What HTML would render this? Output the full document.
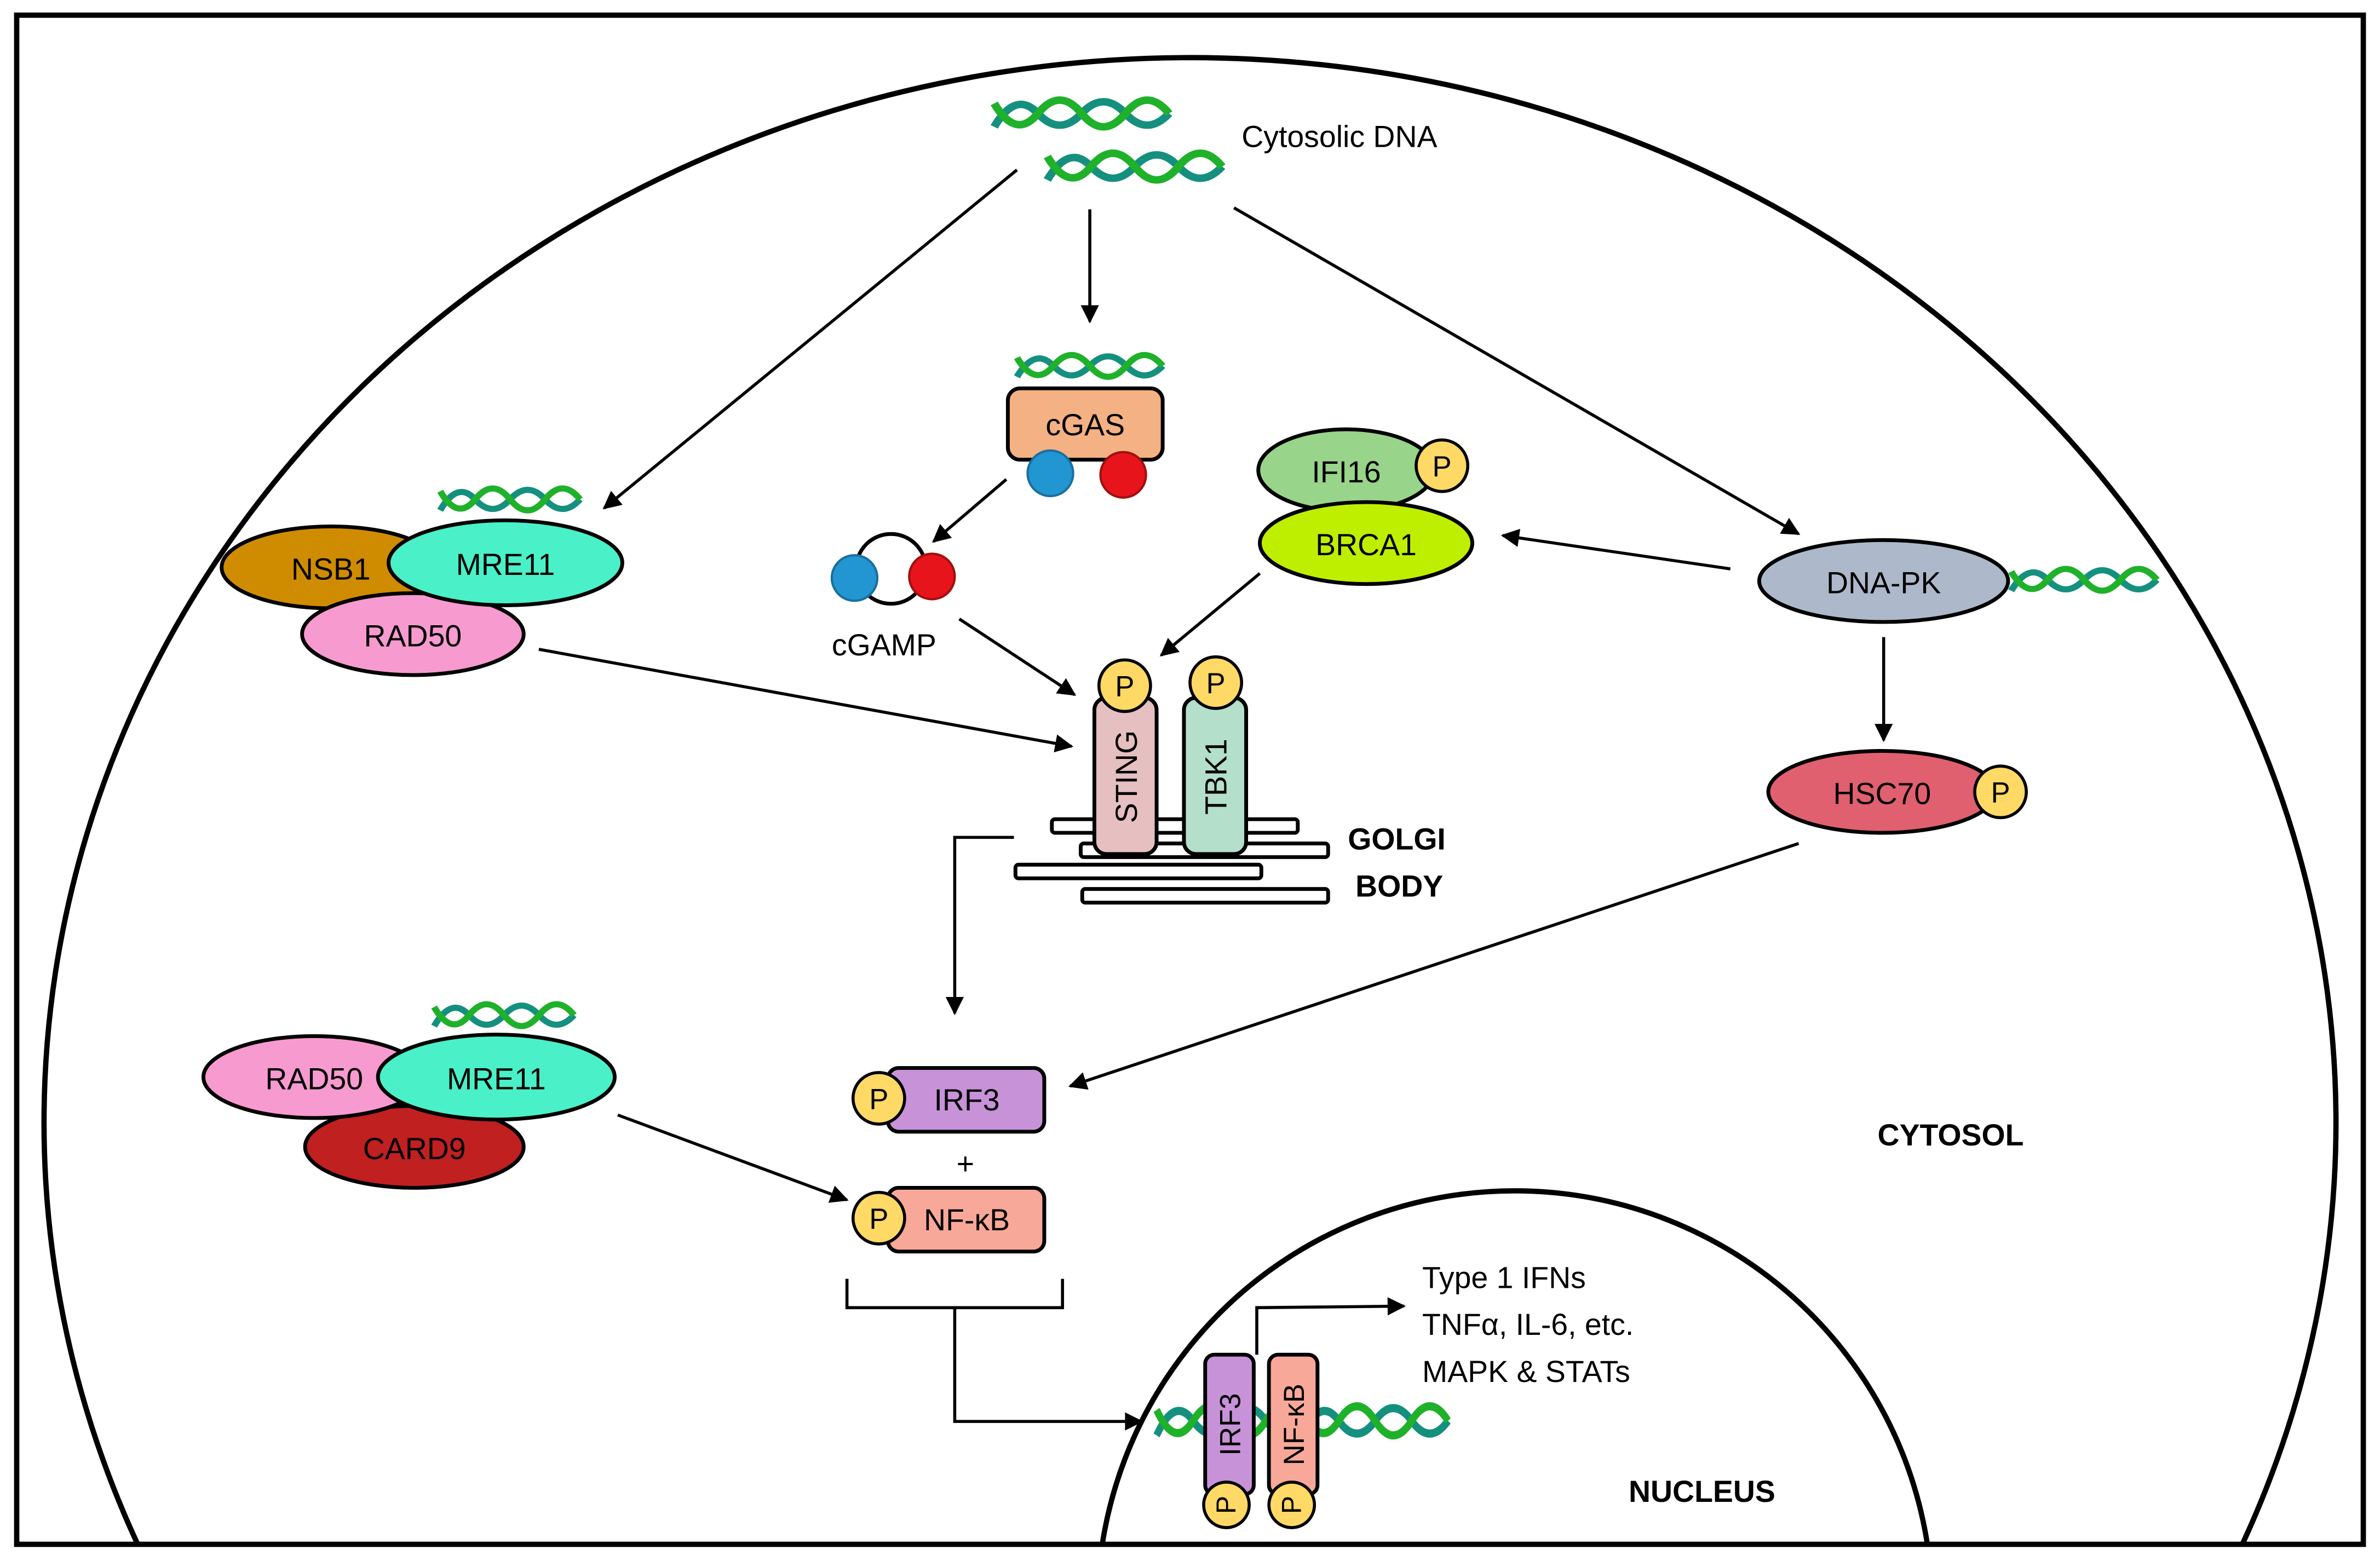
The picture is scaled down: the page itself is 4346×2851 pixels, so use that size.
<!DOCTYPE html>
<html><head><meta charset="utf-8"><style>
html,body{margin:0;padding:0;background:#fff;overflow:hidden;width:4346px;height:2851px;}
svg{display:block;}
text{font-family:"Liberation Sans",sans-serif;fill:#000;}
</style></head><body>
<svg width="4346" height="2851" viewBox="0 0 1568 1029" preserveAspectRatio="none" xmlns="http://www.w3.org/2000/svg">
<defs>
<marker id="ah" viewBox="0 0 10 10" refX="9" refY="5" markerWidth="7" markerHeight="6" orient="auto" markerUnits="strokeWidth">
<path d="M0,0 L10,5 L0,10 z" fill="#000"/></marker>
<g id="hx">
<path d="M0,16 Q12,-6 24,8 T48,8 T72,8 T96,8" fill="none" stroke="#15907e" stroke-width="4.5"/>
<path d="M0,2 Q12,24 24,8 T48,8 T72,8 T96,8" fill="none" stroke="#1fb12a" stroke-width="4.5"/>
</g>
<clipPath id="c1"><rect x="0" y="0" width="1568" height="1017"/></clipPath>
</defs>
<rect width="1568" height="1029" fill="#fff"/>
<!-- cell -->
<ellipse cx="784" cy="740" rx="755" ry="702" fill="none" stroke="#000" stroke-width="3.5" clip-path="url(#c1)"/>
<!-- nucleus -->
<circle cx="998" cy="1060" r="275" fill="none" stroke="#000" stroke-width="3.5" clip-path="url(#c1)"/>
<rect x="11" y="10" width="1546" height="1008" fill="none" stroke="#000" stroke-width="3.5"/>

<!-- cytosolic DNA -->
<use href="#hx" transform="translate(655,66) scale(1.2,1.1)"/>
<use href="#hx" transform="translate(690,101) scale(1.2,1.1)"/>
<text x="818" y="97" font-size="20">Cytosolic DNA</text>
<g stroke="#000" stroke-width="2" marker-end="url(#ah)">
<line x1="670" y1="112" x2="398" y2="335"/>
<line x1="718" y1="138" x2="718" y2="212"/>
<line x1="813" y1="137" x2="1185" y2="352"/>
<line x1="663" y1="316" x2="615" y2="357"/>
<line x1="632" y1="408" x2="708" y2="458"/>
<line x1="1140" y1="375" x2="990" y2="353"/>
<line x1="830" y1="378" x2="765" y2="432"/>
<line x1="1241" y1="420" x2="1241" y2="488"/>
<line x1="1185" y1="556" x2="705" y2="716"/>
<line x1="355" y1="428" x2="706" y2="492"/>
<line x1="407" y1="735" x2="558" y2="791"/>
<polyline points="668,552 629,552 629,668" fill="none"/>
<polyline points="629,862 629,937 752,937" fill="none"/>
<polyline points="828,893 828,862 925,861" fill="none"/>
</g>
<polyline points="558,843 558,862 700,862 700,843" fill="none" stroke="#000" stroke-width="2"/>

<!-- cGAS -->
<use href="#hx" transform="translate(670,234) scale(1,0.9)"/>
<rect x="664" y="256" width="102" height="47" rx="8" fill="#f4b183" stroke="#000" stroke-width="2.5"/>
<text x="715" y="287" font-size="20" text-anchor="middle">cGAS</text>
<circle cx="692" cy="312" r="15" fill="#2196d0" stroke="#1a6fa0" stroke-width="1.5"/>
<circle cx="740" cy="313" r="15" fill="#e8141b" stroke="#a01010" stroke-width="1.5"/>
<!-- cGAMP -->
<circle cx="587" cy="375" r="23" fill="none" stroke="#000" stroke-width="2.5"/>
<circle cx="563" cy="381" r="15" fill="#2196d0" stroke="#1a6fa0" stroke-width="1.5"/>
<circle cx="614" cy="380" r="15" fill="#e8141b" stroke="#a01010" stroke-width="1.5"/>
<text x="548" y="432" font-size="20">cGAMP</text>

<!-- IFI16 BRCA1 -->
<ellipse cx="887" cy="310" rx="58" ry="27" fill="#98d48a" stroke="#000" stroke-width="2.5"/>
<text x="887" y="318" font-size="20" text-anchor="middle">IFI16</text>
<circle cx="950" cy="307" r="17" fill="#ffd966" stroke="#000" stroke-width="2"/>
<text x="950" y="314" font-size="19" text-anchor="middle">P</text>
<ellipse cx="900" cy="358" rx="70" ry="27" fill="#bfef00" stroke="#000" stroke-width="2.5"/>
<text x="900" y="366" font-size="20" text-anchor="middle">BRCA1</text>

<!-- DNA-PK -->
<ellipse cx="1241" cy="383" rx="82" ry="27" fill="#adb9ca" stroke="#000" stroke-width="2.5"/>
<text x="1241" y="391" font-size="20" text-anchor="middle">DNA-PK</text>
<use href="#hx" transform="translate(1325,375) scale(1,0.9)"/>
<ellipse cx="1240" cy="522" rx="75" ry="27" fill="#e06070" stroke="#000" stroke-width="2.5"/>
<text x="1240" y="530" font-size="20" text-anchor="middle">HSC70</text>
<circle cx="1318" cy="522" r="17" fill="#ffd966" stroke="#000" stroke-width="2"/>
<text x="1318" y="529" font-size="19" text-anchor="middle">P</text>

<!-- MRN top -->
<use href="#hx" transform="translate(290,322) scale(0.96,0.9)"/>
<ellipse cx="218" cy="374" rx="72" ry="27" fill="#d08c00" stroke="#000" stroke-width="2.5"/>
<text x="218" y="382" font-size="20" text-anchor="middle">NSB1</text>
<ellipse cx="272" cy="418" rx="73" ry="27" fill="#f69ad0" stroke="#000" stroke-width="2.5"/>
<text x="272" y="426" font-size="20" text-anchor="middle">RAD50</text>
<ellipse cx="333" cy="371" rx="77" ry="28" fill="#4af0c8" stroke="#000" stroke-width="2.5"/>
<text x="333" y="379" font-size="20" text-anchor="middle">MRE11</text>

<!-- Golgi -->
<g fill="#fff" stroke="#000" stroke-width="2.5">
<rect x="693" y="540" width="162" height="9" rx="2"/>
<rect x="712" y="556" width="163" height="9" rx="2"/>
<rect x="669" y="570" width="162" height="9" rx="2"/>
<rect x="713" y="586" width="162" height="9" rx="2"/>
</g>
<rect x="721" y="460" width="41" height="103" rx="8" fill="#e6bfc1" stroke="#000" stroke-width="2.5"/>
<rect x="780" y="460" width="41" height="103" rx="8" fill="#b3dfcb" stroke="#000" stroke-width="2.5"/>
<text transform="translate(749,512) rotate(-90)" font-size="20" text-anchor="middle">STING</text>
<text transform="translate(808,512) rotate(-90)" font-size="20" text-anchor="middle">TBK1</text>
<circle cx="741" cy="452" r="17" fill="#ffd966" stroke="#000" stroke-width="2"/>
<text x="741" y="459" font-size="19" text-anchor="middle">P</text>
<circle cx="801" cy="450" r="17" fill="#ffd966" stroke="#000" stroke-width="2"/>
<text x="801" y="457" font-size="19" text-anchor="middle">P</text>
<text x="888" y="560" font-size="20" font-weight="bold">GOLGI</text>
<text x="893" y="591" font-size="20" font-weight="bold">BODY</text>

<!-- IRF3 / NF-kB -->
<rect x="585" y="704" width="103" height="42" rx="7" fill="#c892d8" stroke="#000" stroke-width="2.5"/>
<text x="637" y="732" font-size="20" text-anchor="middle">IRF3</text>
<circle cx="579" cy="724" r="17" fill="#ffd966" stroke="#000" stroke-width="2"/>
<text x="579" y="731" font-size="19" text-anchor="middle">P</text>
<text x="636" y="774" font-size="20" text-anchor="middle">+</text>
<rect x="585" y="783" width="103" height="42" rx="7" fill="#f8a898" stroke="#000" stroke-width="2.5"/>
<text x="637" y="811" font-size="20" text-anchor="middle">NF-κB</text>
<circle cx="579" cy="803" r="17" fill="#ffd966" stroke="#000" stroke-width="2"/>
<text x="579" y="810" font-size="19" text-anchor="middle">P</text>

<!-- MRN bottom -->
<use href="#hx" transform="translate(286,662) scale(0.96,0.9)"/>
<ellipse cx="273" cy="756" rx="72" ry="27" fill="#c0201f" stroke="#000" stroke-width="2.5"/>
<text x="273" y="764" font-size="20" text-anchor="middle">CARD9</text>
<ellipse cx="207" cy="710" rx="73" ry="27" fill="#f69ad0" stroke="#000" stroke-width="2.5"/>
<text x="207" y="718" font-size="20" text-anchor="middle">RAD50</text>
<ellipse cx="327" cy="710" rx="78" ry="28" fill="#4af0c8" stroke="#000" stroke-width="2.5"/>
<text x="327" y="718" font-size="20" text-anchor="middle">MRE11</text>

<!-- nucleus content -->
<use href="#hx" transform="translate(762,927) scale(1,1.2)"/>
<use href="#hx" transform="translate(858,927) scale(1,1.2)"/>
<rect x="794" y="893" width="32" height="92" rx="6" fill="#c892d8" stroke="#000" stroke-width="2.5"/>
<rect x="836" y="893" width="32" height="92" rx="6" fill="#f8a898" stroke="#000" stroke-width="2.5"/>
<text transform="translate(817,939) rotate(-90)" font-size="19" text-anchor="middle">IRF3</text>
<text transform="translate(859,939) rotate(-90)" font-size="19" text-anchor="middle">NF-κB</text>
<circle cx="808" cy="992" r="15" fill="#ffd966" stroke="#000" stroke-width="2"/>
<text transform="translate(814,992) rotate(-90)" font-size="18" text-anchor="middle">P</text>
<circle cx="851" cy="992" r="15" fill="#ffd966" stroke="#000" stroke-width="2"/>
<text transform="translate(857,992) rotate(-90)" font-size="18" text-anchor="middle">P</text>
<text x="937" y="849" font-size="20">Type 1 IFNs</text>
<text x="937" y="880" font-size="20">TNFα, IL-6, etc.</text>
<text x="937" y="911" font-size="20">MAPK &amp; STATs</text>
<text x="1237" y="755" font-size="20" font-weight="bold">CYTOSOL</text>
<text x="1073" y="990" font-size="20" font-weight="bold">NUCLEUS</text>
</svg>
</body></html>
